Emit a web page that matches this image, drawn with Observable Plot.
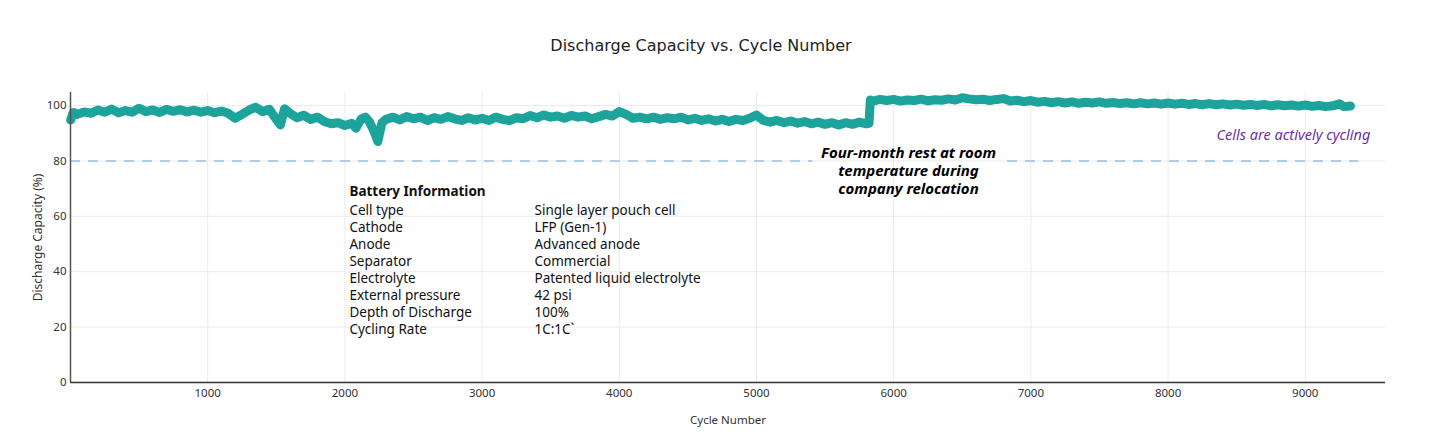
<!DOCTYPE html>
<html>
<head>
<meta charset="utf-8">
<script src="https://cdn.jsdelivr.net/npm/d3@7"></script>
<script src="https://cdn.jsdelivr.net/npm/@observablehq/plot@0.6"></script>
<style>
  html, body { margin: 0; padding: 0; background: #fff; }
  #wrap { width: 1430px; height: 440px; position: relative; overflow: hidden; }
  #title { position: absolute; left: 0; top: 0; width: 1402px; height: 70px; text-align: center;
           font-family: "DejaVu Sans", Verdana, sans-serif; font-size: 16px; color: #222; line-height: 92px; }
  #chart { position: absolute; left: 0; top: 70px; }
</style>
</head>
<body>
<div id="wrap">
  <div id="title">Discharge Capacity vs. Cycle Number</div>
  <div id="chart"></div>
</div>
<script>
const cycles = [1,20,50,100,150,200,250,300,350,400,450,500,550,600,650,700,750,800,850,900,950,1000,
  1050,1100,1150,1200,1250,1300,1350,1400,1450,1500,1530,1560,1600,1650,1700,1750,1800,1850,1900,1950,
  2000,2050,2080,2120,2150,2180,2210,2240,2270,2300,2350,2400,2450,2500,2550,2600,2650,2700,2750,2800,
  2850,2900,2950,3000,3050,3100,3150,3200,3250,3300,3350,3400,3450,3500,3550,3600,3650,3700,3750,3800,
  3850,3900,3950,4000,4050,4100,4150,4200,4250,4300,4350,4400,4450,4500,4550,4600,4650,4700,4750,4800,
  4850,4900,4950,5000,5050,5100,5150,5200,5250,5300,5350,5400,5450,5500,5550,5600,5650,5700,5750,5800,
  5820,5830,5850,5900,5950,6000,6050,6100,6150,6200,6250,6300,6350,6400,6450,6500,6550,6600,6650,6700,
  6750,6800,6850,6900,6950,7000,7050,7100,7150,7200,7250,7300,7350,7400,7450,7500,7550,7600,7650,7700,
  7750,7800,7850,7900,7950,8000,8050,8100,8150,8200,8250,8300,8350,8400,8450,8500,8550,8600,8650,8700,
  8750,8800,8850,8900,8950,9000,9050,9100,9150,9200,9250,9280,9330];
const capacity = [94.8,97.5,96.8,97.7,97.2,98.4,97.6,98.7,97.4,98.2,97.6,99.0,97.8,98.4,97.5,98.6,97.9,98.5,97.7,98.3,97.6,98.2,
  97.4,98.0,97.2,95.4,96.8,98.3,99.4,97.8,98.6,95.0,93.0,98.8,97.2,95.6,96.5,95.0,95.8,94.2,93.4,93.8,
  92.8,93.6,91.8,95.2,95.8,94.0,91.0,87.0,93.8,95.0,95.8,94.8,96.0,95.2,95.8,94.6,95.6,95.0,96.0,95.2,
  94.6,95.6,94.8,95.4,94.6,95.8,95.0,94.6,95.6,95.2,96.4,95.6,96.6,95.8,96.2,95.4,96.4,95.8,96.2,95.2,
  96.0,96.8,96.2,97.8,96.8,95.4,95.8,95.2,95.8,95.0,95.6,95.2,95.8,94.8,95.4,94.6,95.2,94.4,95.0,94.2,
  95.0,94.6,95.4,96.6,94.6,94.0,94.6,93.8,94.4,93.6,94.2,93.4,94.0,93.2,93.8,93.0,93.8,93.2,94.0,93.4,
  93.6,102.0,101.6,102.2,101.8,102.2,101.6,102.0,101.8,102.3,101.7,102.1,101.9,102.4,102.0,102.8,102.4,102.1,102.3,101.8,
  102.2,102.5,101.6,101.9,101.4,101.8,101.2,101.5,101.0,101.4,100.9,101.3,100.8,101.2,100.9,101.3,100.8,101.1,100.7,101.0,
  100.6,101.0,100.6,100.9,100.5,100.9,100.5,100.8,100.4,100.7,100.3,100.7,100.3,100.6,100.2,100.5,100.1,100.4,100.0,100.4,
  99.9,100.3,99.9,100.2,99.8,100.2,99.7,100.0,99.6,99.9,100.6,99.6,99.8];

const xTicks = [1000,2000,3000,4000,5000,6000,7000,8000,9000];
const yTicks = [0,20,40,60,80,100];
const threshold = 80;
const thresholdFrom = [0, 6830];
const thresholdTo = [5410, 9390];

const infoTitle = "Battery Information";
const infoLabels = ["Cell type","Cathode","Anode","Separator","Electrolyte","External pressure","Depth of Discharge","Cycling Rate"];
const infoValues = ["Single layer pouch cell","LFP (Gen-1)","Advanced anode","Commercial","Patented liquid electrolyte","42 psi","100%","1C:1C`"];
const restNote = "Four-month rest at room\ntemperature during\ncompany relocation";
const cyclingNote = "Cells are actively cycling";

const data = cycles.map((c, i) => ({cycle: c, cap: capacity[i]}));
const segs = thresholdFrom.map((a, i) => ({x1: a, x2: thresholdTo[i], y: threshold}));

const font = "'Noto Sans', 'Open Sans', sans-serif";

const plot = Plot.plot({
  width: 1430,
  height: 370,
  marginTop: 22,
  marginBottom: 58,
  marginLeft: 70,
  marginRight: 45,
  style: {fontFamily: font, fontSize: "11.5px", color: "#333", background: "#fff"},
  x: {domain: [0, 9585]},
  y: {domain: [0, 104.7]},
  marks: [
    Plot.gridX(xTicks, {stroke: "#ebebeb", strokeOpacity: 1}),
    Plot.gridY(yTicks.filter(d => d > 0), {stroke: "#ebebeb", strokeOpacity: 1}),
    Plot.axisX(xTicks, {tickSize: 0, tickPadding: 6, label: null, tickFormat: d => String(d), fontSize: 11.5, fill: "#333"}),
    Plot.axisY(yTicks, {tickSize: 0, tickPadding: 4, label: null, tickFormat: d => String(d), fontSize: 11.5, fill: "#333"}),
    Plot.ruleY(segs, {x1: "x1", x2: "x2", y: "y", stroke: "#aecbec", strokeWidth: 2, strokeDasharray: "10,8"}),
    Plot.line(data, {x: "cycle", y: "cap", stroke: "#1ba39c", strokeWidth: 9, strokeLinejoin: "round", strokeLinecap: "round"}),
    Plot.ruleX([0], {y1: 0, y2: 104.7, stroke: "#555", strokeWidth: 1.5}),
    Plot.ruleY([0], {x1: 0, x2: 9585, stroke: "#333", strokeWidth: 1.5}),
    Plot.text([infoTitle], {x: 2033, y: 69.0, textAnchor: "start", fontWeight: "bold", fontSize: 13.5, fill: "#111"}),
    Plot.text([infoLabels.join("\n")], {x: 2033, y: 41.0, textAnchor: "start", fontSize: 13.5, lineHeight: 1.26, fill: "#111"}),
    Plot.text([infoValues.join("\n")], {x: 3382, y: 41.0, textAnchor: "start", fontSize: 13.5, lineHeight: 1.26, fill: "#111"}),
    Plot.text([restNote], {x: 6108, y: 76.5, textAnchor: "middle", fontSize: 15, fontWeight: "bold", fontStyle: "italic", lineHeight: 1.2, fill: "#000"}),
    Plot.text([cyclingNote], {x: 9475, y: 89.2, textAnchor: "end", fontSize: 14.5, fontStyle: "italic", fill: "#7030a0"}),
    Plot.text(["Cycle Number"], {frameAnchor: "bottom", textAnchor: "middle", lineAnchor: "middle", dy: 38, fontSize: 11.5, fill: "#333"}),
    Plot.text(["Discharge Capacity (%)"], {frameAnchor: "left", textAnchor: "middle", lineAnchor: "middle", dx: -32, dy: 0, rotate: -90, fontSize: 12, fill: "#333"})
  ]
});
document.getElementById("chart").appendChild(plot);
</script>
</body>
</html>
